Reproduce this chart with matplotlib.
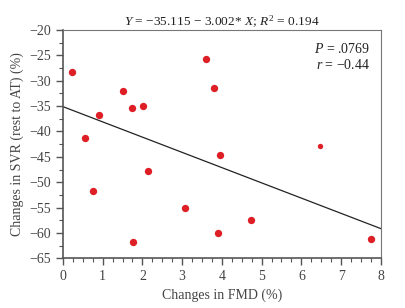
import matplotlib
matplotlib.use("Agg")
import matplotlib.pyplot as plt
from matplotlib.ticker import MultipleLocator

# data
fmd = [0.23, 0.56, 0.92, 1.51, 1.75, 2.01, 3.61, 3.79, 3.95, 0.75, 2.15, 3.06, 1.76, 3.90, 4.73, 7.75, 6.48]
svr = [-28.3, -41.2, -36.8, -32.1, -35.4, -34.9, -25.8, -31.4, -44.7, -51.8, -47.8, -55.0, -61.7, -59.9, -57.5, -61.1, -42.8]
intercept = -35.115
slope = -3.002
x_ticks = [0, 1, 2, 3, 4, 5, 6, 7, 8]
y_ticks = [-65, -60, -55, -50, -45, -40, -35, -30, -25, -20]

plt.rcParams['font.family'] = ['Liberation Serif', 'DejaVu Serif']
plt.rcParams['mathtext.fontset'] = 'custom'
plt.rcParams['mathtext.rm'] = 'Liberation Serif'
plt.rcParams['mathtext.it'] = 'Liberation Serif:italic'

fig = plt.figure(figsize=(4.06, 3.08), dpi=100)
ax = fig.add_axes([0.155, 0.161, 0.783, 0.742])

red = "#de1f26"
# the last point is drawn a little smaller in the original
ax.scatter(fmd[:-1], svr[:-1], s=28, color=red, zorder=3, linewidths=0)
ax.scatter(fmd[-1:], svr[-1:], s=15, color=red, zorder=3, linewidths=0)

xs = [x_ticks[0], x_ticks[-1]]
ax.plot(xs, [intercept + slope * x for x in xs], color="#222222", lw=0.9)

ax.set_xlim(x_ticks[0], x_ticks[-1])
ax.set_ylim(y_ticks[0], y_ticks[-1])
ax.set_xticks(x_ticks)
ax.set_yticks(y_ticks)
ax.set_yticklabels(["\u2212%d" % abs(v) for v in y_ticks])
ax.xaxis.set_minor_locator(MultipleLocator(0.25))
ax.yaxis.set_minor_locator(MultipleLocator(2.5))

gray = "#555555"
for side in ["left", "bottom"]:
    ax.spines[side].set_color(gray)
    ax.spines[side].set_linewidth(1.2)
for side in ["top", "right"]:
    ax.spines[side].set_color("#777777")
    ax.spines[side].set_linewidth(0.8)
ax.tick_params(which="both", top=False, right=False, color=gray, labelsize=10, labelcolor="#444444")
ax.tick_params(which="major", length=5, width=1)
ax.tick_params(which="minor", length=3, width=0.8)

ax.set_xlabel("Changes in FMD (%)", fontsize=10, color="#444444")
ax.set_ylabel("Changes in SVR (rest to AT) (%)", fontsize=10, color="#444444")
ax.set_title("$Y$ = \u221235.115 \u2212 3.002* $X$; $R^2$ = 0.194", fontsize=9.6, color="#222222", pad=3)

ax.text(0.965, 0.917, "$P$ = .0769", transform=ax.transAxes, ha="right", va="center", fontsize=10, color="#222222")
ax.text(0.965, 0.846, "$r$ = \u22120.44", transform=ax.transAxes, ha="right", va="center", fontsize=10, color="#222222")

fig.savefig("out.png", dpi=100)
